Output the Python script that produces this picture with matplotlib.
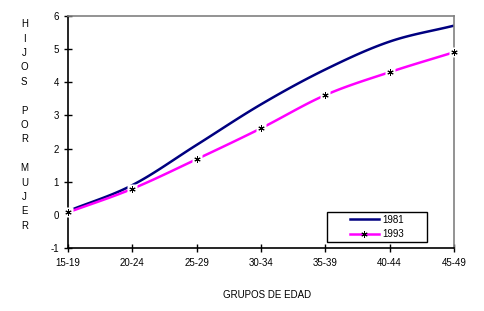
import matplotlib
matplotlib.use("Agg")
import matplotlib.pyplot as plt
from matplotlib.patches import Rectangle
import numpy as np

plt.rcParams['font.family'] = ['Liberation Sans', 'DejaVu Sans']
plt.rcParams['axes.unicode_minus'] = False

grupos = ['15-19', '20-24', '25-29', '30-34', '35-39', '40-44', '45-49']
hijos_1981 = [0.12, 0.90, 2.11, 3.33, 4.38, 5.22, 5.70]
hijos_1993 = [0.08, 0.79, 1.68, 2.61, 3.61, 4.30, 4.90]


def smooth(y, n=20):
    # catmull-rom style smoothing like excel's smoothed lines
    y = np.asarray(y, dtype=float)
    p = np.concatenate([[2 * y[0] - y[1]], y, [2 * y[-1] - y[-2]]])
    xs, ys = [], []
    for i in range(len(y) - 1):
        t = np.linspace(0, 1, n, endpoint=False)
        p0, p1, p2, p3 = p[i], p[i + 1], p[i + 2], p[i + 3]
        seg = 0.5 * (2 * p1 + (-p0 + p2) * t + (2 * p0 - 5 * p1 + 4 * p2 - p3) * t ** 2
                     + (-p0 + 3 * p1 - 3 * p2 + p3) * t ** 3)
        xs.append(i + t)
        ys.append(seg)
    xs.append([len(y) - 1])
    ys.append([y[-1]])
    return np.concatenate(xs), np.concatenate(ys)


fig = plt.figure(figsize=(4.85, 3.11), dpi=100)
ax = fig.add_axes([0.140, 0.2016, 0.796, 0.748])

x = np.arange(len(grupos))
sx, sy = smooth(hijos_1981)
ax.plot(sx, sy, color='#000080', lw=1.8, label='1981', solid_capstyle='butt', zorder=2)
sx, sy = smooth(hijos_1993)
ax.plot(sx, sy, color='#ff00ff', lw=1.8, solid_capstyle='butt', zorder=2)
ax.plot(x, hijos_1993, ls='none', marker='s', ms=7, mfc='white', mec='none', clip_on=False, zorder=3)
ax.plot(x, hijos_1993, ls='none', marker=(6, 2, 0), ms=4.5, mec='black', mew=0.7, clip_on=False, zorder=4)

ax.set_xlim(0, len(grupos) - 1)
ax.set_ylim(-1, 6)
ax.set_yticks(range(-1, 7))
ax.set_xticks(x)
ax.set_xticklabels(grupos)
ax.tick_params(direction='inout', length=6, width=1, labelsize=7, color='black')
ax.tick_params(axis='x', pad=4)
for s in ['left', 'bottom']:
    ax.spines[s].set_color('black')
    ax.spines[s].set_linewidth(1.2)
for s in ['top', 'right']:
    ax.spines[s].set_color('#808080')
    ax.spines[s].set_linewidth(1.2)

# legend: box drawn separately, entries centred in it
ax.add_patch(Rectangle((0.671, 0.028), 0.259, 0.127, transform=ax.transAxes, fill=True,
                       facecolor='white', edgecolor='black', lw=1.0, clip_on=False, zorder=5))
h1, = ax.plot([], [], color='#000080', lw=1.8)
h2, = ax.plot([], [], color='#ff00ff', lw=1.8, marker=(6, 2, 0), ms=4.5, mec='black', mew=0.7)
leg = ax.legend([h1, h2], ['1981', '1993'], loc='center', bbox_to_anchor=(0.8, 0.0915),
                fontsize=7, frameon=False, borderpad=0.2, handlelength=3.0,
                handletextpad=0.3, labelspacing=0.45)
leg.set_zorder(6)

fig.text(0.050, 0.598, 'H\nI\nJ\nO\nS\n\nP\nO\nR\n\nM\nU\nJ\nE\nR', ha='center', va='center',
         fontsize=7, linespacing=1.55)
fig.text(0.55, 0.05, 'GRUPOS DE EDAD', ha='center', va='center', fontsize=7)

fig.savefig('out.png', dpi=100)
